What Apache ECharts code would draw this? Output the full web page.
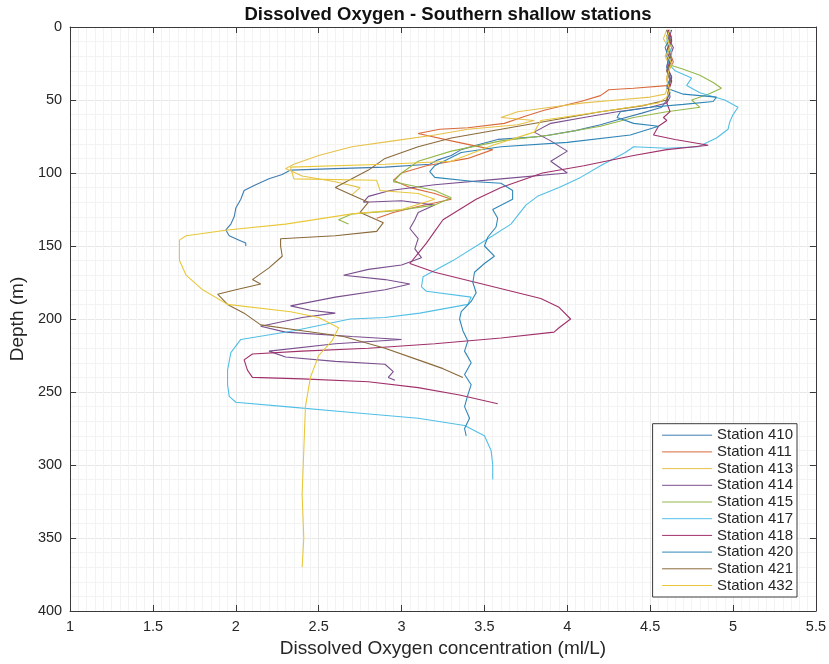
<!DOCTYPE html>
<html>
<head>
<meta charset="utf-8">
<title>Dissolved Oxygen - Southern shallow stations</title>
<script src="https://cdn.jsdelivr.net/npm/echarts@6/dist/echarts.min.js"></script>
<style>
  html, body { margin: 0; padding: 0; background: #fff; }
  #chart { width: 829px; height: 664px; }
</style>
</head>
<body>
<div id="chart"></div>
<script>
// [oxygen (ml/L), depth (m)]
const station410 = [[4.62,2],[4.6,6],[4.63,10],[4.61,15],[4.6,20],[4.62,25],[4.61,30],[4.63,35],[4.6,40],[4.62,45],[4.6,50],[4.57,55],[4.45,59],[4.32,63],[4.2,67],[4.05,71],[3.84,75],[3.58,77],[3.45,81],[3.36,84],[3.3,88],[3.22,91],[3.17,94],[2.9,96],[2.6,97],[2.33,98],[2.28,101],[2.2,104],[2.12,108],[2.05,112],[2.03,118],[2.0,124],[1.99,130],[1.97,135],[1.94,139],[1.96,143],[2.02,146],[2.06,148],[2.06,150]]
const station411 = [[4.61,2],[4.63,7],[4.6,12],[4.62,18],[4.64,24],[4.61,30],[4.6,36],[4.62,40],[4.4,42],[4.25,43],[4.2,47],[4.08,51],[3.86,57],[3.75,61],[3.62,66],[3.4,69],[3.23,70],[3.1,73],[3.3,78],[3.55,84],[3.4,90],[3.15,95],[3.0,100],[2.95,105],[3.05,110],[3.2,114],[3.3,118],[3.1,123],[2.95,127],[2.85,131]]
const station413 = [[4.6,2],[4.58,8],[4.61,14],[4.59,20],[4.62,27],[4.6,34],[4.61,40],[4.59,46],[4.5,48],[4.3,50],[4.1,52],[3.9,55],[3.7,58],[3.6,62],[3.8,64],[3.7,67],[3.4,70],[3.2,74],[2.95,78],[2.7,82],[2.5,88],[2.35,94],[2.3,97],[2.4,102],[2.6,106],[2.75,110],[2.7,115]]
const station414 = [[4.63,2],[4.61,8],[4.64,14],[4.62,20],[4.6,27],[4.63,34],[4.61,41],[4.62,48],[4.6,52],[4.5,55],[4.3,58],[4.1,62],[3.9,66],[3.8,72],[3.9,78],[4.0,85],[3.9,92],[4.0,100],[3.6,104],[3.2,108],[2.93,112],[2.8,116],[2.77,120],[3.0,119],[3.2,122],[3.1,127],[3.08,132],[3.05,138],[3.1,145],[3.08,152],[3.12,158],[3.0,163],[2.8,166],[2.65,170],[2.9,173],[3.05,176],[2.9,180],[2.6,185],[2.33,191],[2.45,194],[2.6,196],[2.4,199],[2.15,205],[2.3,209],[2.7,212],[3.0,214],[2.6,217],[2.2,222],[2.3,226],[2.6,229],[2.9,231],[2.95,236],[2.92,240],[2.96,242]]
const station415 = [[4.62,2],[4.6,8],[4.63,14],[4.61,20],[4.62,26],[4.7,29],[4.8,33],[4.88,38],[4.93,42],[4.85,46],[4.75,50],[4.8,55],[4.6,58],[4.4,62],[4.2,68],[3.9,74],[3.6,78],[3.3,85],[3.1,92],[3.0,100],[2.95,106],[3.2,112],[3.3,117],[3.2,122],[2.95,126],[2.7,128],[2.62,132],[2.68,135]]
const station417 = [[4.62,2],[4.6,10],[4.63,18],[4.61,25],[4.65,30],[4.75,35],[4.72,40],[4.8,45],[4.95,50],[5.03,55],[5.0,60],[4.98,65],[4.97,70],[4.9,76],[4.79,82],[4.6,83],[4.4,82],[4.35,86],[4.2,95],[4.08,103],[3.95,110],[3.82,116],[3.75,122],[3.66,135],[3.55,143],[3.48,148],[3.31,160],[3.13,171],[3.12,178],[3.15,181],[3.42,185],[3.4,190],[3.11,196],[2.9,199],[2.69,200],[2.35,208],[2.03,214],[1.97,223],[1.95,235],[1.95,245],[1.96,253],[2.0,257],[2.3,260],[2.7,264],[3.1,268],[3.38,273],[3.5,280],[3.54,290],[3.55,300],[3.55,310]]
const station418 = [[4.61,2],[4.63,9],[4.6,16],[4.62,23],[4.6,30],[4.63,37],[4.61,44],[4.6,52],[4.62,58],[4.58,62],[4.6,64],[4.55,68],[4.52,74],[4.65,77],[4.8,80],[4.85,81],[4.6,84],[4.4,88],[4.1,95],[3.85,100],[3.6,110],[3.45,118],[3.35,125],[3.25,132],[3.2,140],[3.15,148],[3.1,155],[3.05,162],[3.2,168],[3.45,175],[3.7,182],[3.84,186],[3.95,192],[4.02,200],[3.95,206],[3.92,209],[3.6,213],[3.2,217],[2.8,220],[2.4,222],[2.1,224],[2.05,228],[2.07,235],[2.1,240],[2.4,241],[2.8,243],[3.1,247],[3.35,252],[3.58,258]]
const station420 = [[4.6,2],[4.62,8],[4.59,14],[4.61,21],[4.6,28],[4.62,35],[4.6,42],[4.7,46],[4.9,48],[4.88,51],[4.7,53],[4.5,55],[4.32,58],[4.3,62],[4.4,66],[4.55,68],[4.38,74],[4.0,79],[3.6,82],[3.36,86],[3.2,95],[3.17,99],[3.2,103],[3.45,106],[3.6,107],[3.67,112],[3.67,118],[3.55,125],[3.58,131],[3.57,137],[3.52,144],[3.5,150],[3.56,157],[3.5,162],[3.44,168],[3.43,175],[3.45,182],[3.42,188],[3.36,195],[3.35,200],[3.37,208],[3.4,215],[3.38,222],[3.42,230],[3.38,238],[3.42,245],[3.4,252],[3.38,260],[3.41,268],[3.38,275],[3.39,280]]
const station421 = [[4.6,2],[4.62,9],[4.61,16],[4.63,23],[4.6,30],[4.62,37],[4.61,44],[4.6,50],[4.45,54],[4.2,58],[3.9,64],[3.6,70],[3.3,76],[3.1,82],[2.9,90],[2.8,98],[2.7,104],[2.6,110],[2.7,115],[2.8,120],[2.75,127],[2.89,134],[2.85,140],[2.6,143],[2.27,145],[2.27,150],[2.28,157],[2.2,165],[2.1,173],[2.15,176],[2.0,180],[1.89,183],[1.95,190],[2.05,196],[2.15,204],[2.4,208],[2.65,212],[2.9,220],[3.1,228],[3.25,234],[3.37,240]]
const station432 = [[4.62,2],[4.6,7],[4.62,13],[4.6,19],[4.63,25],[4.61,31],[4.6,37],[4.62,43],[4.6,48],[4.55,52],[4.2,58],[3.84,64],[3.8,72],[3.55,81],[3.3,92],[2.9,94],[2.33,96],[2.35,104],[2.85,105],[2.87,112],[3.1,114],[3.2,118],[3.0,125],[2.7,128],[2.3,135],[1.95,139],[1.7,143],[1.66,146],[1.66,160],[1.7,170],[1.8,180],[1.95,190],[2.33,195],[2.5,199],[2.62,206],[2.58,215],[2.5,225],[2.45,240],[2.42,260],[2.41,290],[2.4,320],[2.41,350],[2.4,370]]

const stationNames = ['Station 410', 'Station 411', 'Station 413', 'Station 414', 'Station 415', 'Station 417', 'Station 418', 'Station 420', 'Station 421', 'Station 432']
const stationData = [station410, station411, station413, station414, station415, station417, station418, station420, station421, station432]
const colors = ['#3f7cb0', '#d96a3c', '#e6c24a', '#7a4f8e', '#94b84a', '#52bfe6', '#a0306a', '#2f86b8', '#8a6a3a', '#e8c83a']

const xTicks = { min: 1, max: 5.5, interval: 0.5 }
const yTicks = { min: 0, max: 400, interval: 50 }

const textColor = '#262626'
const axisColor = '#3a3a3a'
const font = 'Liberation Sans'

const chart = echarts.init(document.getElementById('chart'))

function boxAxis(pos, ticks, showLabel, extra) {
  return Object.assign({
    type: 'value',
    position: pos,
    min: ticks.min,
    max: ticks.max,
    interval: ticks.interval,
    axisLine: { show: true, onZero: false, lineStyle: { color: axisColor, width: 1 } },
    axisTick: { show: true, inside: true, length: 6, lineStyle: { color: axisColor } },
    axisLabel: { show: showLabel, color: textColor, fontSize: 14.5, fontFamily: font },
    splitLine: { show: showLabel, lineStyle: { color: '#e8e8e8', width: 1 } },
    minorTick: { show: false, splitNumber: pos === 'bottom' ? 10 : 5 },
    minorSplitLine: { show: showLabel, lineStyle: { color: '#f3f3f3', width: 1 } }
  }, extra || {})
}

chart.setOption({
  animation: false,
  color: colors,
  title: {
    text: 'Dissolved Oxygen - Southern shallow stations',
    left: 443,
    textAlign: 'center',
    top: 0,
    textStyle: { fontSize: 18.5, fontWeight: 'bold', color: '#111', fontFamily: font }
  },
  grid: { left: 70, right: 11, top: 27, bottom: 53 },
  xAxis: [
    boxAxis('bottom', xTicks, true, {
      name: 'Dissolved Oxygen concentration (ml/L)',
      nameLocation: 'middle',
      nameGap: 28,
      nameTextStyle: { fontSize: 19, color: textColor, fontFamily: font }
    }),
    boxAxis('top', xTicks, false)
  ],
  yAxis: [
    boxAxis('left', yTicks, true, {
      inverse: true,
      name: 'Depth (m)',
      nameLocation: 'middle',
      nameGap: 40,
      nameTextStyle: { fontSize: 19, color: textColor, fontFamily: font }
    }),
    boxAxis('right', yTicks, false, { inverse: true })
  ],
  legend: {
    orient: 'vertical',
    right: 32,
    bottom: 67,
    data: stationNames,
    itemWidth: 50,
    itemHeight: 14,
    itemGap: 1.7,
    padding: [4, 4, 4, 9],
    backgroundColor: '#fff',
    borderColor: axisColor,
    borderWidth: 1,
    borderRadius: 0,
    itemStyle: { opacity: 0 },
    lineStyle: { width: 1 },
    textStyle: { fontSize: 15, lineHeight: 15, color: textColor, fontFamily: font }
  },
  series: stationNames.map((name, i) => ({
    name: name,
    type: 'line',
    data: stationData[i],
    symbol: 'none',
    showSymbol: false,
    lineStyle: { width: 1.1 },
    xAxisIndex: 0,
    yAxisIndex: 0
  }))
})
</script>
</body>
</html>
